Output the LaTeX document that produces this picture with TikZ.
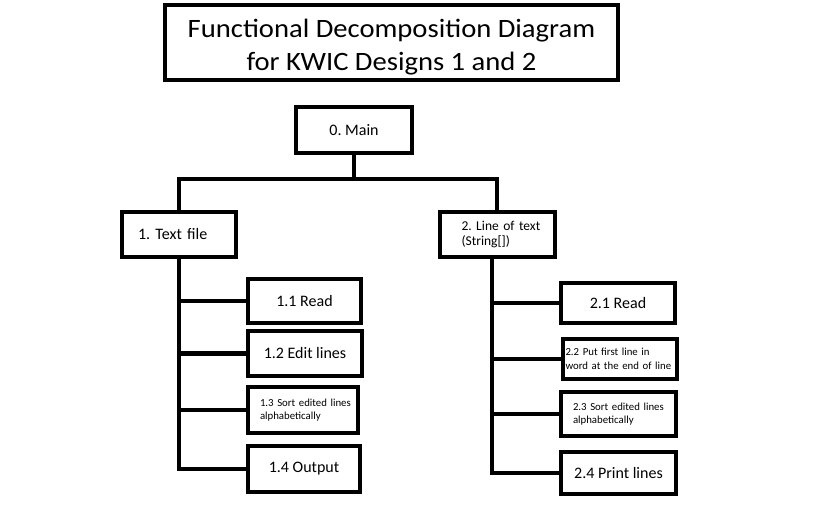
\documentclass[tikz,border=0pt]{standalone}
\usepackage{fontspec}
\setmainfont{Carlito}
\newfontfamily\titlefont{Carlito}[FakeStretch=1.08]
\usetikzlibrary{positioning, calc}

\tikzset{
  fdbox/.style={draw, line width=4pt, inner sep=0pt, font=\fontsize{16}{18}\selectfont},
  smalltxt/.style={font=\fontsize{10.8}{13.6}\selectfont, align=left},
  bar/.style={line width=4.6pt, line join=miter}
}

\begin{document}
\frenchspacing
\begin{tikzpicture}[x=1pt, y=-1pt]
    \useasboundingbox (0,0) rectangle (838,511);

    \node[fdbox, minimum width=453pt, minimum height=75pt,
          font=\titlefont\fontsize{26.5}{33}\selectfont] (title) at (391.5,42.5)
          {\raisebox{-5pt}[\height][\depth]{\begin{tabular}{@{}c@{}}Functional Decomposition Diagram\\for KWIC Designs 1 and 2\end{tabular}}};

    \node[fdbox, minimum width=116pt, minimum height=46pt] (main) at (354,130) {0. Main};

    \node[fdbox, minimum height=45pt, text width=98pt, inner xsep=8pt, align=left] (tf) at (179,234.5) {\hspace*{8pt}1. Text file};
    \node[fdbox, minimum height=45pt, text width=107pt, inner xsep=4pt, align=left,
          font=\fontsize{13.5}{14.5}\selectfont] (lt) at (497,234.5) {\hspace*{18pt}2. Line of text\\\hspace*{18pt}(String[])};

    \node[fdbox, minimum width=113pt, minimum height=44pt] (r11) at (304.5,301) {1.1 Read};
    \node[fdbox, minimum width=114pt, minimum height=45pt] (r12) at (305,353.5) {1.2 Edit lines};
    \node[fdbox, smalltxt, minimum height=46pt, text width=98pt, inner xsep=6pt] (r13) at (303,410) {\hspace*{6pt}1.3 Sort edited lines\\\hspace*{6pt}alphabetically};
    \node[fdbox, minimum width=112pt, minimum height=46pt] (r14) at (304,469) {1.4 Output};

    \node[fdbox, minimum width=114pt, minimum height=40pt] (r21) at (618,303) {2.1 Read};
    \node[fdbox, smalltxt, minimum height=40pt, text width=110pt, inner xsep=2pt] (r22) at (619.5,359) {\hspace*{1pt}2.2 Put first line in\\\hspace*{1pt}word at the end of line};
    \node[fdbox, smalltxt, minimum height=44pt, text width=103pt, inner xsep=6pt] (r23) at (618.5,414) {\hspace*{6pt}2.3 Sort edited lines\\\hspace*{6pt}alphabetically};
    \node[fdbox, minimum width=115pt, minimum height=42pt] (r24) at (618.5,473) {2.4 Print lines};

    % top level
    \path (main.south) ++(0,24) coordinate (bus);
    \draw[bar] (main) -- (bus);
    \draw[bar] (bus) -| (tf);
    \draw[bar] (bus) -| (lt);

    % left branch
    \draw[bar] (tf) |- (r11);
    \draw[bar] (tf) |- (r12);
    \draw[bar] (tf) |- (r13);
    \draw[bar] (tf) |- (r14);

    % right branch
    \coordinate (lts) at ([xshift=-5pt]lt.south);
    \draw[bar] (lts) |- (r21);
    \draw[bar] (lts) |- (r22);
    \draw[bar] (lts) |- (r23);
    \draw[bar] (lts) |- (r24);
\end{tikzpicture}
\end{document}
